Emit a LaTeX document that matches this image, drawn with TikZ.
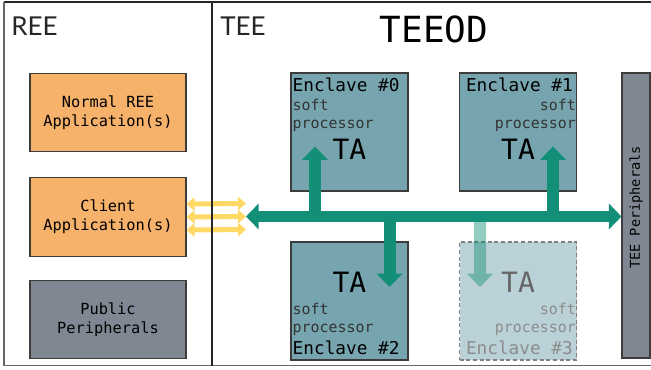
\documentclass[tikz,border=0pt]{standalone}
\usepackage{fontspec}
\setmonofont{DejaVu Sans Mono}
\newfontfamily\titlefont{Lato}
\usetikzlibrary{arrows.meta,positioning}
\definecolor{appfill}{HTML}{F6B26B}
\definecolor{enclfill}{HTML}{76A5AF}
\definecolor{ghostfill}{HTML}{BAD2D7}
\definecolor{perifill}{HTML}{7F8892}
\definecolor{busgreen}{HTML}{148F77}
\definecolor{linkyellow}{HTML}{FFD966}
\definecolor{boxline}{HTML}{3C3C3C}

\tikzset{
  box/.style={draw=boxline, line width=0.8pt, inner sep=0pt, align=center,
    font=\ttfamily\fontsize{11.5}{14.3}\selectfont},
  appbox/.style={box, fill=appfill, minimum width=117pt, minimum height=59pt},
  peribox/.style={box, fill=perifill},
  enclbox/.style={box, fill=enclfill, minimum width=87.75pt, minimum height=88.5pt},
  ghostbox/.style={enclbox, fill=ghostfill, draw=gray, densely dashed},
  title/.style={font=\titlefont\fontsize{19.5}{20}\selectfont, text=black!85, inner sep=0pt},
  enctitle/.style={font=\ttfamily\fontsize{13.3}{14}\selectfont, inner sep=0pt},
  softproc/.style={font=\ttfamily\fontsize{11.2}{13.7}\selectfont, text=black!80, inner sep=0pt},
  ta/.style={font=\ttfamily\fontsize{21}{21}\selectfont, inner sep=0pt},
  bus/.style={busgreen, line width=8pt, {Triangle[length=9.4pt,width=18.8pt]}-{Triangle[length=9.4pt,width=18.8pt]}},
  tap/.style={busgreen, line width=9pt, -{Triangle[length=10pt,width=18.8pt]}},
  link/.style={linkyellow, line width=3.8pt, {Triangle[length=6pt,width=10pt]}-{Triangle[length=6pt,width=10pt]}}
}

\begin{document}
\begin{tikzpicture}[x=0.75pt,y=-0.75pt]
  \useasboundingbox (0,0) rectangle (651,369);

  % Frame
  \draw[line width=1pt, black!85] (4,2) -- (652,2);
  \draw[line width=1.3pt, black!60] (4,2) -- (4,365.5) -- (652,365.5);

  % Titles
  \node[title, anchor=base west] (ree) at (11,35) {REE};
  \node[title, anchor=base west] (tee) at (220,35) {TEE};
  \node[font=\ttfamily\fontsize{27}{27}\selectfont, inner sep=0pt, anchor=base] (teeod) at (434,42) {TEEOD};

  % REE side
  \node[appbox] (normal) at (108,112.5) {Normal REE\\Application(s)};
  \node[appbox] (client) at (108,217) {Client\\Application(s)};
  \node[peribox, minimum width=117pt, minimum height=59pt] (public) at (108,319.5) {Public\\Peripherals};

  % Enclaves
  \node[enclbox] (enc0) at (349.5,132) {};
  \node[enclbox] (enc1) at (518,132) {};
  \node[enclbox] (enc2) at (349.5,301) {};
  \node[ghostbox] (enc3) at (518,301) {};

  % TEE peripherals
  \node[peribox, minimum width=21pt, minimum height=213.75pt] (teeper) at (636,215.5) {};
  \node[rotate=90, font=\ttfamily\fontsize{10.2}{11}\selectfont, inner sep=0pt] (teeperlabel) at ([yshift=6pt]teeper.center) {TEE Peripherals};

  % Enclave texts
  \node[enctitle, anchor=base west] (name0) at ([shift={(2,18.7)}]enc0.north west) {Enclave \#0};
  \node[softproc, anchor=base west] (soft0) at ([shift={(2,37.7)}]enc0.north west) {soft};
  \node[softproc, anchor=base west] (proc0) at ([shift={(2,56)}]enc0.north west) {processor};
  \node[ta, anchor=base] (ta0) at ([shift={(0,87)}]enc0.north) {TA};

  \node[enctitle, anchor=base east] (name1) at ([shift={(-4,18.7)}]enc1.north east) {Enclave \#1};
  \node[softproc, anchor=base east] (soft1) at ([shift={(-1,37.7)}]enc1.north east) {soft};
  \node[softproc, anchor=base east] (proc1) at ([shift={(-1,56)}]enc1.north east) {processor};
  \node[ta, anchor=base] (ta1) at ([shift={(0,87)}]enc1.north) {TA};

  \node[ta, anchor=base] (ta2) at ([shift={(0,51.3)}]enc2.north) {TA};
  \node[softproc, anchor=base west] (soft2) at ([shift={(2,73)}]enc2.north west) {soft};
  \node[softproc, anchor=base west] (proc2) at ([shift={(2,90.7)}]enc2.north west) {processor};
  \node[enctitle, anchor=base west] (name2) at ([shift={(2,113)}]enc2.north west) {Enclave \#2};

  \node[ta, anchor=base, text=black!60] (ta3) at ([shift={(0,51.3)}]enc3.north) {TA};
  \node[softproc, anchor=base east, text=black!45] (soft3) at ([shift={(-1,73)}]enc3.north east) {soft};
  \node[softproc, anchor=base east, text=black!45] (proc3) at ([shift={(-1,90.7)}]enc3.north east) {processor};
  \node[enctitle, anchor=base east, text=black!45] (name3) at ([shift={(-4,113)}]enc3.north east) {Enclave \#3};

  % Bus and taps
  \coordinate (busL) at (246,216.5);
  \foreach \n/\x/\y in {0/315/146.5, 1/553/146.5, 2/389.5/287} {
    \coordinate (bus\n) at (\x,216.5);
    \coordinate (tip\n) at (\x,\y);
    \draw[tap] (bus\n) -- (tip\n);
  }
  \draw[bus] (busL) -- (busL -| teeper.west);
  \coordinate (bus3) at (480,222);
  \coordinate (tip3) at (480,287);
  \begin{scope}[transparency group, opacity=0.45]
    \draw[tap] (bus3) -- (tip3);
  \end{scope}

  % Client links
  \foreach \dy in {-9.75pt, 0pt, 9.75pt}
    \draw[link] ([yshift=\dy]client.east) -- ([yshift=\dy]busL);

  % REE / TEE divider
  \draw[line width=1pt, black!85] (212,2) -- (212,365.5);
\end{tikzpicture}
\end{document}
